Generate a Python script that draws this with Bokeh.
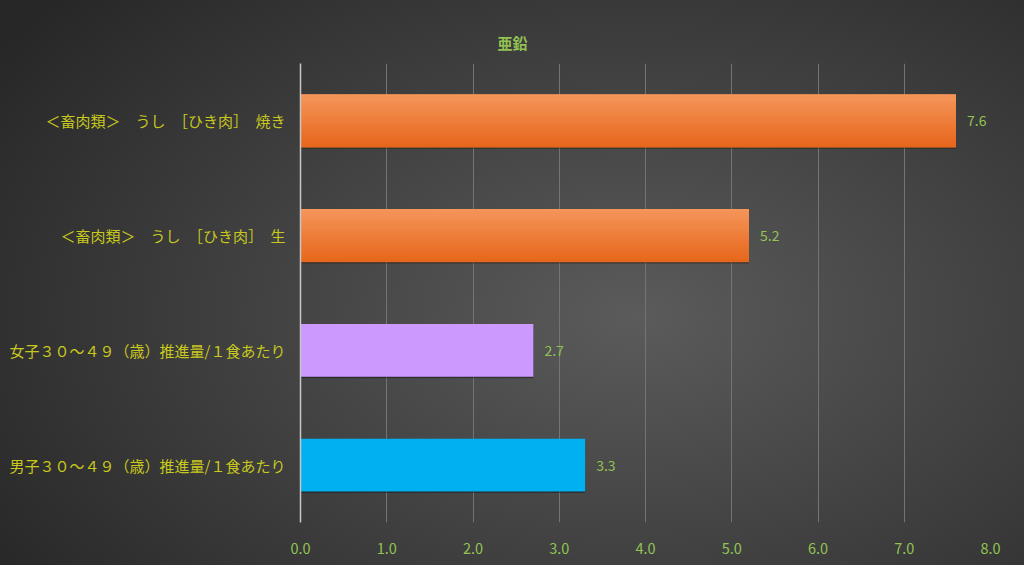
from bokeh.plotting import figure
from bokeh.models import ColumnDataSource, Range1d, FactorRange, PrintfTickFormatter, FixedTicker
from bokeh.core.properties import value
from bokeh.transform import dodge
from bokeh.embed import file_html
from bokeh.resources import INLINE

# data (bottom to top)
categories = [
    "男子３０～４９（歳）推進量/１食あたり",
    "女子３０～４９（歳）推進量/１食あたり",
    "＜畜肉類＞　うし　［ひき肉］　生",
    "＜畜肉類＞　うし　［ひき肉］　焼き",
]
values = [3.3, 2.7, 5.2, 7.6]
bar_colors = ["#00b0f0", "#cc99ff", "#ef7b2e", "#ef7b2e"]
labels = ["3.3", "2.7", "5.2", "7.6"]
x_ticks = [0, 1, 2, 3, 4, 5, 6, 7, 8]
title_text = "亜鉛"

FONT = "Noto Sans CJK JP"
BAR_H = 0.46

src = ColumnDataSource(dict(cat=categories, val=values, color=bar_colors, lab=labels))
orange_idx = [i for i, c in enumerate(bar_colors) if c == "#ef7b2e"]
osrc = ColumnDataSource(dict(cat=[categories[i] for i in orange_idx],
                             val=[values[i] for i in orange_idx]))

p = figure(
    width=1024, height=565,
    y_range=FactorRange(*categories, range_padding=0),
    x_range=Range1d(0, 8),
    output_backend="svg", toolbar_location=None,
    min_border_left=300, min_border_right=34, min_border_top=63, min_border_bottom=43,
)
p.styles = {"background-image": "radial-gradient(ellipse 75% 85% at 62% 56%, #5b5b5b 0%, #414141 50%, #272727 100%)"}
p.border_fill_color = None
p.background_fill_color = None
p.outline_line_color = None

# title
p.title.text = title_text
p.title.text_color = "#92c353"
p.title.text_font = FONT
p.title.text_font_size = "15px"
p.title.text_font_style = "bold"
p.title.align = "left"
p.title.offset = 197
p.title.standoff = 22

# shadow
p.hbar(y=dodge("cat", -0.014, range=p.y_range), right="val", left=0, height=BAR_H,
       source=src, fill_color="#111111", fill_alpha=0.45, line_color=None)
# bars
p.hbar(y="cat", right="val", left=0, height=BAR_H, source=src,
       fill_color="color", line_color=None)

# orange vertical gradient (light top -> dark bottom)
def lerp(c1, c2, t):
    a = [int(c1[i:i + 2], 16) for i in (1, 3, 5)]
    b = [int(c2[i:i + 2], 16) for i in (1, 3, 5)]
    return "#" + "".join(f"{round(x + (y - x) * t):02x}" for x, y in zip(a, b))

n = 24
sh = BAR_H / n
for k in range(n):
    c = lerp("#f5955a", "#e6661b", k / (n - 1))
    off = BAR_H / 2 - sh * (k + 0.5)
    p.hbar(y=dodge("cat", off, range=p.y_range), right="val", left=0, height=sh * 1.1,
           source=osrc, fill_color=c, line_color=None)

p.text(x="val", y="cat", text="lab", source=src, x_offset=11,
       text_baseline="middle", text_align="left", text_color="#92c353",
       text_font=value(FONT), text_font_size="14px")

# grid
p.ygrid.grid_line_color = None
p.xgrid.grid_line_color = "#747474"
p.xgrid.grid_line_width = 1
p.xgrid.ticker = FixedTicker(ticks=x_ticks)

# x axis
p.xaxis.ticker = FixedTicker(ticks=x_ticks)
p.xaxis.formatter = PrintfTickFormatter(format="%.1f")
p.xaxis.axis_line_color = None
p.xaxis.major_tick_line_color = None
p.xaxis.minor_tick_line_color = None
p.xaxis.major_label_text_color = "#92c353"
p.xaxis.major_label_text_font = FONT
p.xaxis.major_label_text_font_size = "14.5px"
p.xaxis.major_label_standoff = 14

# y axis
p.yaxis.axis_line_color = "#c8c8c8"
p.yaxis.axis_line_width = 1.5
p.yaxis.major_tick_line_color = None
p.yaxis.minor_tick_line_color = None
p.yaxis.major_label_text_color = "#c8c81e"
p.yaxis.major_label_text_font = FONT
p.yaxis.major_label_text_font_size = "15px"
p.yaxis.major_label_standoff = 9

open("out.html", "w").write(file_html(p, INLINE))
